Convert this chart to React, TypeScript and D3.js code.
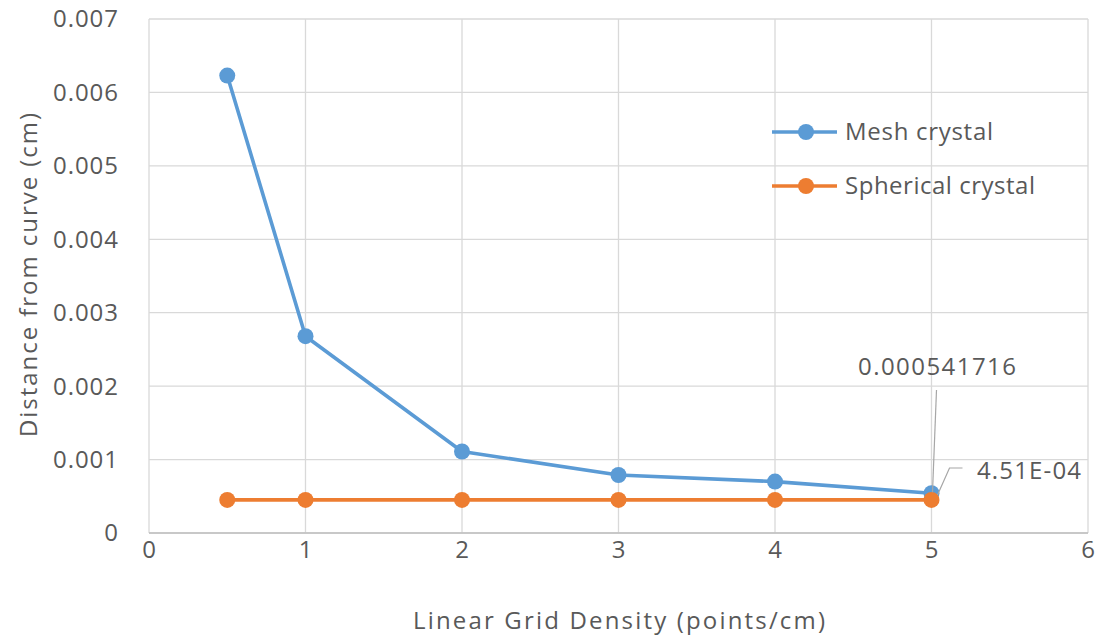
import React from "react";
import * as d3 from "d3";

const xValues = [0.5, 1, 2, 3, 4, 5];
const meshValues = [0.00623, 0.00268, 0.00111, 0.00079, 0.0007, 0.000541716];
const sphericalValues = [0.000451, 0.000451, 0.000451, 0.000451, 0.000451, 0.000451];
const xTicks = [0, 1, 2, 3, 4, 5, 6];
const yTicks = [0, 0.001, 0.002, 0.003, 0.004, 0.005, 0.006, 0.007];
const seriesNames = ["Mesh crystal", "Spherical crystal"];
const legendWidths = [148, 190];
const colors = ["#5b9bd5", "#ed7d31"];
const meshLabel = "0.000541716";
const sphericalLabel = "4.51E-04";

export default function App() {
  const W = 1102, H = 639;
  const x = d3.scaleLinear().domain([0, 6]).range([149, 1088]);
  const y = d3.scaleLinear().domain([0, 0.007]).range([533, 19]);
  const font = "'Open Sans', 'DejaVu Sans', sans-serif";
  const tc = "#595959";
  const line = d3.line<number>().x((_, i) => x(xValues[i])).y((d) => y(d));
  const series = [meshValues, sphericalValues];
  const lx = xValues[5];
  return (
    <svg width={W} height={H} style={{ position: "absolute", left: 0, top: 0 }} fontFamily={font}>
      <rect width={W} height={H} fill="#fff" />
      {yTicks.map((t) => (
        <line key={"gy" + t} x1={x(0)} x2={x(6)} y1={y(t)} y2={y(t)} stroke="#d9d9d9" strokeWidth={1.3} />
      ))}
      {xTicks.map((t) => (
        <line key={"gx" + t} x1={x(t)} x2={x(t)} y1={y(0)} y2={y(0.007)} stroke="#d9d9d9" strokeWidth={1.3} />
      ))}
      <line x1={x(0)} x2={x(6)} y1={y(0)} y2={y(0)} stroke="#bfbfbf" strokeWidth={1.3} />
      {yTicks.map((t) => (
        <text key={"ty" + t} x={118} y={y(t)} dy="0.35em" textAnchor="end" fontSize={24} fill={tc} textLength={t === 0 ? undefined : 65} lengthAdjust="spacing">
          {t === 0 ? "0" : t.toFixed(3)}
        </text>
      ))}
      {xTicks.map((t) => (
        <text key={"tx" + t} x={x(t)} y={550} dy="0.35em" textAnchor="middle" fontSize={24} fill={tc}>
          {t}
        </text>
      ))}
      <text x={413} y={621} dy="0.35em" fontSize={24} fill={tc} textLength={412} lengthAdjust="spacing">
        Linear Grid Density (points/cm)
      </text>
      <text transform={`translate(29,437) rotate(-90)`} dy="0.35em" fontSize={24} fill={tc} textLength={324} lengthAdjust="spacing">
        Distance from curve (cm)
      </text>
      {series.map((s, k) => (
        <g key={"s" + k}>
          <path d={line(s) || ""} fill="none" stroke={colors[k]} strokeWidth={3.6} strokeLinejoin="round" />
          {s.map((v, i) => (
            <circle key={i} cx={x(xValues[i])} cy={y(v)} r={8} fill={colors[k]} />
          ))}
        </g>
      ))}
      {/* data labels */}
      <line x1={x(lx) + 5} y1={390} x2={x(lx) + 1} y2={y(meshValues[5]) - 1} stroke="#a6a6a6" strokeWidth={1.2} />
      <text x={858} y={367} dy="0.35em" fontSize={24} fill={tc} textLength={158} lengthAdjust="spacing">
        {meshLabel}
      </text>
      <polyline
        points={`${x(lx) + 31},${468} ${x(lx) + 18},${468} ${x(lx) + 6},${y(sphericalValues[5]) - 5}`}
        fill="none"
        stroke="#a6a6a6"
        strokeWidth={1.2}
      />
      <text x={977} y={471} dy="0.35em" fontSize={24} fill={tc} textLength={104} lengthAdjust="spacing">
        {sphericalLabel}
      </text>
      {/* legend */}
      {seriesNames.map((n, k) => (
        <g key={"l" + k}>
          <line x1={772} x2={837} y1={132 + k * 54} y2={132 + k * 54} stroke={colors[k]} strokeWidth={3.6} />
          <circle cx={806} cy={132 + k * 54} r={8} fill={colors[k]} />
          <text x={845} y={132 + k * 54} dy="0.35em" fontSize={24} fill={tc} textLength={legendWidths[k]} lengthAdjust="spacing">
            {n}
          </text>
        </g>
      ))}
    </svg>
  );
}
